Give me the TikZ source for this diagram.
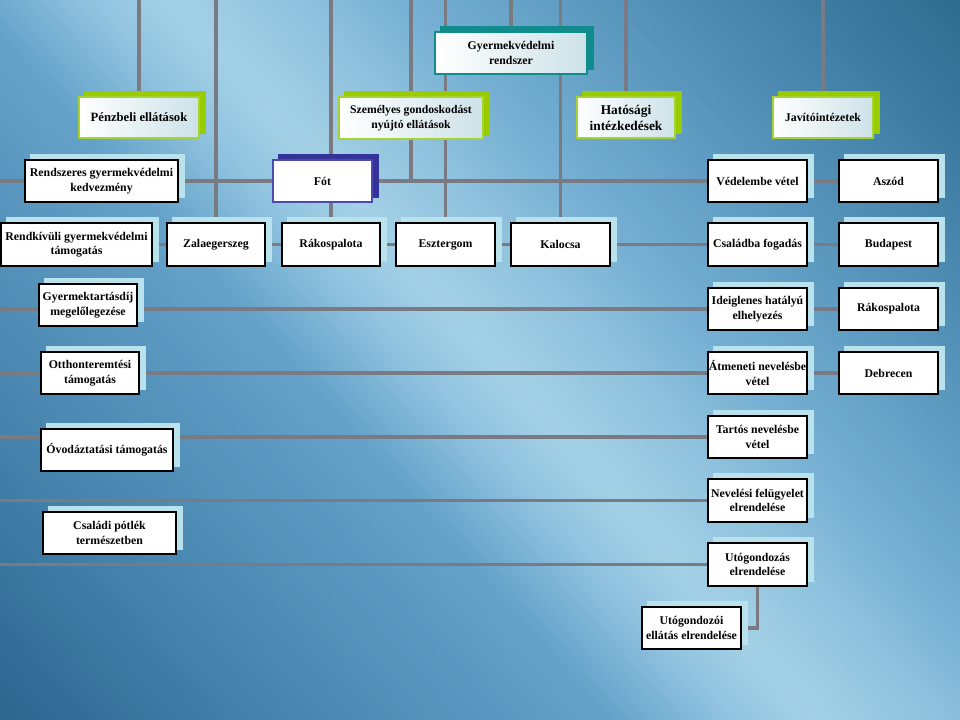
\documentclass[tikz,border=0pt]{standalone}
\usepackage{fontspec}
\setmainfont{Liberation Serif}
\usetikzlibrary{calc}
\pgfdeclarelayer{back}
\pgfdeclarelayer{bg}
\pgfsetlayers{back,bg,main}
\definecolor{c0}{HTML}{285F88}
\definecolor{c1}{HTML}{4785AF}
\definecolor{c2}{HTML}{66A3CA}
\definecolor{c2b}{HTML}{92C4E0}
\definecolor{c3}{HTML}{A3D0E6}
\definecolor{c3b}{HTML}{92C4DF}
\definecolor{c4}{HTML}{74AED2}
\definecolor{c5}{HTML}{4E8CB4}
\definecolor{c6}{HTML}{2A6488}
\definecolor{lnc}{RGB}{122,122,130}
\definecolor{cyansh}{RGB}{185,226,236}
\definecolor{greensh}{RGB}{153,204,0}
\definecolor{greenbd}{RGB}{165,212,50}
\definecolor{tealsh}{RGB}{16,140,140}
\definecolor{navysh}{RGB}{51,51,153}
\definecolor{navybd}{RGB}{75,75,175}
\definecolor{boxgrad}{RGB}{205,226,232}
\tikzset{
  box/.style={draw=black, line width=1pt, fill=white, align=center, inner sep=0pt,
    font=\bfseries\fontsize{8.4}{10.3}\selectfont},
  hdr/.style={box, draw=greenbd, line width=1.2pt, left color=white, right color=boxgrad},
  dims/.style 2 args={minimum width=#1*0.025cm, minimum height=#2*0.025cm},
  conn/.style={draw=lnc, line width=2.6pt},
}
\begin{document}
\begin{tikzpicture}[x=0.025cm, y=-0.025cm]
\useasboundingbox (0,0) rectangle (960,720);
% ---------- background ----------
\begin{pgfonlayer}{back}
\clip (0,0) rectangle (960,720);
\fill[c0] (0,0) rectangle (960,720);
\foreach \ua/\ub/\ca/\cb in {-650/-400/c0/c1, -400/-150/c1/c2, -150/-60/c2/c2b, -60/0/c2b/c3, 0/80/c3/c3b, 80/180/c3b/c4, 180/380/c4/c5, 380/620/c5/c6}{
  \foreach \t in {0,5,...,100}{
    \pgfmathsetmacro\u{\ua+(\ub-\ua)*(\t/100)}
    \fill[\cb!\t!\ca] ({170+0.746*\u-0.666*1500},{-0.666*\u-0.746*1500}) -- ({170+0.746*\u+0.666*1500},{-0.666*\u+0.746*1500}) -- ({170+0.746*1600+0.666*1500},{-0.666*1600+0.746*1500}) -- ({170+0.746*1600-0.666*1500},{-0.666*1600-0.746*1500}) -- cycle;
  }}
\end{pgfonlayer}
% ---------- boxes ----------
\node[hdr, draw=tealsh, dims={152}{42}] (gyrend) at (511,53) {Gyermekvédelmi\\rendszer};
\node[hdr, dims={120}{41}, font=\bfseries\fontsize{9}{11}\selectfont] (penz) at (139,117.5) {Pénzbeli ellátások};
\node[hdr, dims={144}{42}, font=\bfseries\fontsize{8.3}{10.3}\selectfont] (szem) at (411,118) {Személyes gondoskodást\\nyújtó ellátások};
\node[hdr, dims={98}{41}, font=\bfseries\fontsize{9.5}{11.3}\selectfont] (hat) at (626,117.5) {Hatósági\\intézkedések};
\node[hdr, dims={100}{41}] (jav) at (823,117.5) {Javítóintézetek};
% row 1
\node[box, dims={153}{42}] (rendsz) at (101.5,181) {Rendszeres gyermekvédelmi\\kedvezmény};
\node[box, draw=navybd, dims={99}{42}] (fot) at (322.5,181) {Fót};
\node[box, dims={99}{42}] (vedel) at (757.5,181) {Védelembe vétel};
\node[box, dims={99}{42}] (aszod) at (888.5,181) {Aszód};
% row 2
\node[box, dims={151}{43}] (rendk) at (76.5,244.5) {Rendkívüli gyermekvédelmi\\támogatás};
\node[box, dims={98}{43}] (zala) at (216,244.5) {Zalaegerszeg};
\node[box, dims={98}{43}] (rakos1) at (331,244.5) {Rákospalota};
\node[box, dims={99}{43}] (eszt) at (445.5,244.5) {Esztergom};
\node[box, dims={99}{43}] (kal) at (560.5,244.5) {Kalocsa};
\node[box, dims={99}{43}] (csal) at (757.5,244.5) {Családba fogadás};
\node[box, dims={99}{43}] (buda) at (888.5,244.5) {Budapest};
% row 3
\node[box, dims={98}{42}] (gyt) at (88,305) {Gyermektartásdíj\\megelőlegezése};
\node[box, dims={99}{42}] (ideig) at (757.5,309) {Ideiglenes hatályú\\elhelyezés};
\node[box, dims={99}{42}] (rakos2) at (888.5,309) {Rákospalota};
% row 4
\node[box, dims={98}{42}] (otth) at (90,373) {Otthonteremtési\\támogatás};
\node[box, dims={99}{42}] (atm) at (757.5,373) {Átmeneti nevelésbe\\vétel};
\node[box, dims={99}{42}] (debr) at (888.5,373) {Debrecen};
% lower rows
\node[box, dims={132}{42}] (ovod) at (107,450) {Óvodáztatási támogatás};
\node[box, dims={99}{42}] (tart) at (757.5,437) {Tartós nevelésbe\\vétel};
\node[box, dims={133}{42}] (csp) at (109.5,533) {Családi pótlék\\természetben};
\node[box, dims={99}{43}] (nev) at (757.5,500.5) {Nevelési felügyelet\\elrendelése};
\node[box, dims={99}{43}] (utog) at (757.5,564.5) {Utógondozás\\elrendelése};
\node[box, dims={99}{42}] (utogi) at (691.5,628) {Utógondozói\\ellátás elrendelése};
% ---------- connectors and shadows ----------
\begin{pgfonlayer}{bg}
\coordinate (top) at (0,0);
\coordinate (r1) at (0,181);
\coordinate (r2) at (0,244.5);
\coordinate (r3) at (0,309);
\coordinate (r4) at (0,373);
\coordinate (r5) at (0,437);
\coordinate (r6) at (0,500.5);
\coordinate (r7) at (0,564.5);
\draw[conn] (r1) -- (aszod.west);
\draw[conn] (r2) -- (buda.west);
\draw[conn] (r3) -- (rakos2.west);
\draw[conn] (r4) -- (debr.west);
\draw[conn] (r5) -- (tart.west);
\draw[conn] (r6) -- (nev.west);
\draw[conn] (r7) -- (utog.west);
\coordinate (tpenz) at (penz.north |- top);
\coordinate (tzala) at (zala.north |- top);
\coordinate (trak) at (rakos1.north |- top);
\coordinate (tszem) at (szem.north |- top);
\coordinate (jszem) at (szem.south |- r1);
\coordinate (teszt) at (eszt.north |- top);
\coordinate (tgy) at (gyrend.north |- top);
\coordinate (tkal) at (kal.north |- top);
\coordinate (that) at (hat.north |- top);
\coordinate (tjav) at (jav.north |- top);
\draw[conn] (tpenz) -- (penz.north);
\draw[conn] (tzala) -- (zala.north);
\draw[conn] (trak) -- (rakos1.north);
\draw[conn] (tszem) -- (jszem);
\draw[conn] (teszt) -- (eszt.north);
\draw[conn] (tgy) -- (gyrend.north);
\draw[conn] (tkal) -- (kal.north);
\draw[conn] (that) -- (hat.north);
\draw[conn] (tjav) -- (jav.north);
\draw[conn] (utog.south) -- (utog.south |- utogi.east) -- (utogi.east);
% shadows
\fill[tealsh] ($(gyrend.north west)+(6,-5)$) rectangle ($(gyrend.south east)+(6,-5)$);
\foreach \n in {penz,szem,hat,jav}
  \fill[greensh] ($(\n.north west)+(6,-5)$) rectangle ($(\n.south east)+(6,-5)$);
\fill[navysh] ($(fot.north west)+(6,-5)$) rectangle ($(fot.south east)+(6,-5)$);
\foreach \n in {rendsz,vedel,aszod,rendk,zala,rakos1,eszt,kal,csal,buda,gyt,ideig,rakos2,otth,atm,debr,ovod,tart,csp,nev,utog,utogi}
  \fill[cyansh] ($(\n.north west)+(6,-5)$) rectangle ($(\n.south east)+(6,-5)$);
\end{pgfonlayer}
\end{tikzpicture}
\end{document}
